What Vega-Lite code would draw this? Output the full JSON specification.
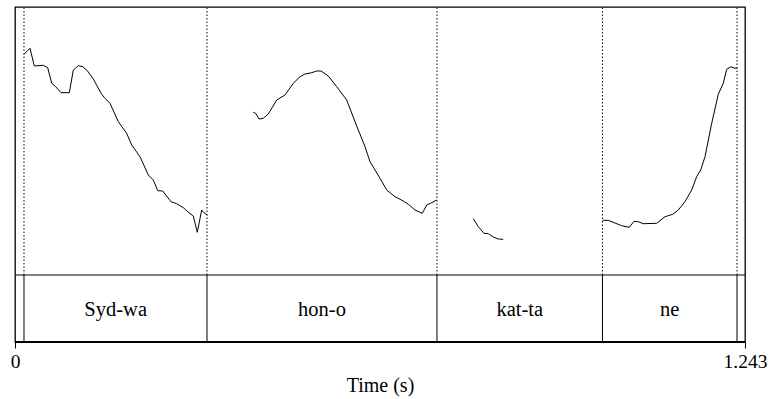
{
  "$schema": "https://vega.github.io/schema/vega-lite/v6.json",
  "width": 730,
  "height": 335,
  "autosize": {"type": "none"},
  "padding": {"left": 15, "top": 7, "right": 26, "bottom": 57},
  "background": "white",
  "config": {"view": {"stroke": "black", "strokeWidth": 1.3}, "font": "Liberation Serif", "text": {"font": "Liberation Serif"}, "axis": {"labelFont": "Liberation Serif", "titleFont": "Liberation Serif"}},
  "datasets": {
    "pitch": [
      {"t":0.0153,"f0":220.7,"seg":1},{"t":0.0255,"f0":226.7,"seg":1},{"t":0.0329,"f0":209,"seg":1},{"t":0.0482,"f0":209.7,"seg":1},{"t":0.0557,"f0":207.3,"seg":1},{"t":0.0625,"f0":191.7,"seg":1},{"t":0.0693,"f0":188.3,"seg":1},{"t":0.0783,"f0":182.3,"seg":1},{"t":0.0925,"f0":182.3,"seg":1},{"t":0.0993,"f0":205,"seg":1},{"t":0.1078,"f0":209.3,"seg":1},{"t":0.1153,"f0":208.3,"seg":1},{"t":0.1231,"f0":204.3,"seg":1},{"t":0.1333,"f0":196,"seg":1},{"t":0.1476,"f0":180.7,"seg":1},{"t":0.1532,"f0":176.7,"seg":1},{"t":0.1618,"f0":171.7,"seg":1},{"t":0.1759,"f0":153.3,"seg":1},{"t":0.1902,"f0":141.7,"seg":1},{"t":0.1987,"f0":130,"seg":1},{"t":0.2128,"f0":118.3,"seg":1},{"t":0.2270,"f0":100,"seg":1},{"t":0.2355,"f0":95,"seg":1},{"t":0.2430,"f0":84.3,"seg":1},{"t":0.2515,"f0":84,"seg":1},{"t":0.2656,"f0":73.3,"seg":1},{"t":0.2753,"f0":71.3,"seg":1},{"t":0.2866,"f0":67.3,"seg":1},{"t":0.2951,"f0":62.7,"seg":1},{"t":0.3036,"f0":59,"seg":1},{"t":0.3104,"f0":42.7,"seg":1},{"t":0.3179,"f0":65,"seg":1},{"t":0.3218,"f0":62.3,"seg":1},{"t":0.3274,"f0":60,"seg":1},
      {"t":0.4058,"f0":162.7,"seg":2},{"t":0.4098,"f0":161.7,"seg":2},{"t":0.4155,"f0":156,"seg":2},{"t":0.4228,"f0":156.7,"seg":2},{"t":0.4313,"f0":161,"seg":2},{"t":0.4456,"f0":175,"seg":2},{"t":0.4597,"f0":180,"seg":2},{"t":0.4739,"f0":191.7,"seg":2},{"t":0.4853,"f0":198.3,"seg":2},{"t":0.4938,"f0":201,"seg":2},{"t":0.5052,"f0":202.3,"seg":2},{"t":0.5137,"f0":204,"seg":2},{"t":0.5210,"f0":204,"seg":2},{"t":0.5335,"f0":199,"seg":2},{"t":0.5478,"f0":188.3,"seg":2},{"t":0.5648,"f0":175,"seg":2},{"t":0.5818,"f0":149,"seg":2},{"t":0.5960,"f0":128.3,"seg":2},{"t":0.6045,"f0":113.3,"seg":2},{"t":0.6130,"f0":105,"seg":2},{"t":0.6215,"f0":96.7,"seg":2},{"t":0.6329,"f0":85,"seg":2},{"t":0.6470,"f0":78.3,"seg":2},{"t":0.6612,"f0":74,"seg":2},{"t":0.6697,"f0":70.7,"seg":2},{"t":0.6811,"f0":65,"seg":2},{"t":0.6935,"f0":61.7,"seg":2},{"t":0.7010,"f0":70,"seg":2},{"t":0.7095,"f0":72.3,"seg":2},{"t":0.7180,"f0":75,"seg":2},
      {"t":0.7804,"f0":56.3,"seg":3},{"t":0.7889,"f0":48.3,"seg":3},{"t":0.7986,"f0":41.7,"seg":3},{"t":0.8059,"f0":41.3,"seg":3},{"t":0.8144,"f0":38,"seg":3},{"t":0.8229,"f0":36,"seg":3},{"t":0.8314,"f0":35.7,"seg":3},
      {"t":1.0007,"f0":54.7,"seg":4},{"t":1.0102,"f0":54.7,"seg":4},{"t":1.0216,"f0":52,"seg":4},{"t":1.0330,"f0":49.3,"seg":4},{"t":1.0460,"f0":47.7,"seg":4},{"t":1.0540,"f0":53.7,"seg":4},{"t":1.0613,"f0":53.3,"seg":4},{"t":1.0698,"f0":51.3,"seg":4},{"t":1.0926,"f0":51.7,"seg":4},{"t":1.1068,"f0":58.3,"seg":4},{"t":1.1199,"f0":60.7,"seg":4},{"t":1.1294,"f0":65,"seg":4},{"t":1.1408,"f0":73.3,"seg":4},{"t":1.1522,"f0":85,"seg":4},{"t":1.1607,"f0":98.3,"seg":4},{"t":1.1675,"f0":105,"seg":4},{"t":1.1749,"f0":118.3,"seg":4},{"t":1.1863,"f0":151.7,"seg":4},{"t":1.1975,"f0":180.7,"seg":4},{"t":1.2060,"f0":191.7,"seg":4},{"t":1.2118,"f0":205.7,"seg":4},{"t":1.2191,"f0":208.3,"seg":4},{"t":1.2242,"f0":207,"seg":4},{"t":1.2299,"f0":206.7,"seg":4}
    ],
    "bounds": [
      {"t":0.0153},{"t":0.3269},{"t":0.7185},{"t":1.0003},{"t":1.2294}
    ],
    "intervals": [
      {"label":"Syd-wa","mid":0.1714},
      {"label":"hon-o","mid":0.5227},
      {"label":"kat-ta","mid":0.8594},
      {"label":"ne","mid":1.1149}
    ]
  },
  "layer": [
    {
      "data": {"name": "bounds"},
      "mark": {"type": "rule", "color": "black", "strokeWidth": 1, "strokeDash": [1.5, 2]},
      "encoding": {
        "x": {"field": "t", "type": "quantitative", "scale": {"domain": [0, 1.243], "nice": false, "zero": false},
          "axis": {"values": [0, 1.243], "format": ".4~g", "domain": false, "grid": false, "tickColor": "black", "tickSize": 6, "tickWidth": 1,
            "labelFont": "Liberation Serif", "labelFontSize": 19.5, "labelColor": "black", "labelPadding": 4, "labelFlush": false,
            "title": "Time (s)", "titleFont": "Liberation Serif", "titleFontSize": 20, "titleFontWeight": "normal", "titleColor": "black", "titlePadding": 5}},
        "y": {"datum": 0, "type": "quantitative", "scale": {"domain": [-67, 268], "nice": false, "zero": false}, "axis": null},
        "y2": {"datum": 268}
      }
    },
    {
      "data": {"name": "bounds"},
      "mark": {"type": "rule", "color": "black", "strokeWidth": 1},
      "encoding": {
        "x": {"field": "t", "type": "quantitative"},
        "y": {"datum": -67, "type": "quantitative"},
        "y2": {"datum": 0}
      }
    },
    {
      "data": {"values": [{"y": 0, "w": 1}, {"y": -67, "w": 2.2}]},
      "mark": {"type": "rule", "color": "black"},
      "encoding": {
        "x": {"datum": 0, "type": "quantitative"},
        "x2": {"datum": 1.243},
        "y": {"field": "y", "type": "quantitative"},
        "strokeWidth": {"field": "w", "type": "quantitative", "scale": null, "legend": null}
      }
    },
    {
      "data": {"name": "pitch"},
      "mark": {"type": "line", "color": "black", "strokeWidth": 1, "interpolate": "linear"},
      "encoding": {
        "x": {"field": "t", "type": "quantitative"},
        "y": {"field": "f0", "type": "quantitative"},
        "detail": {"field": "seg", "type": "nominal"}
      }
    },
    {
      "data": {"name": "intervals"},
      "mark": {"type": "text", "font": "Liberation Serif", "fontSize": 20.5, "color": "black", "baseline": "alphabetic", "align": "center"},
      "encoding": {
        "x": {"field": "mid", "type": "quantitative"},
        "y": {"datum": -41, "type": "quantitative"},
        "text": {"field": "label", "type": "nominal"}
      }
    }
  ]
}
